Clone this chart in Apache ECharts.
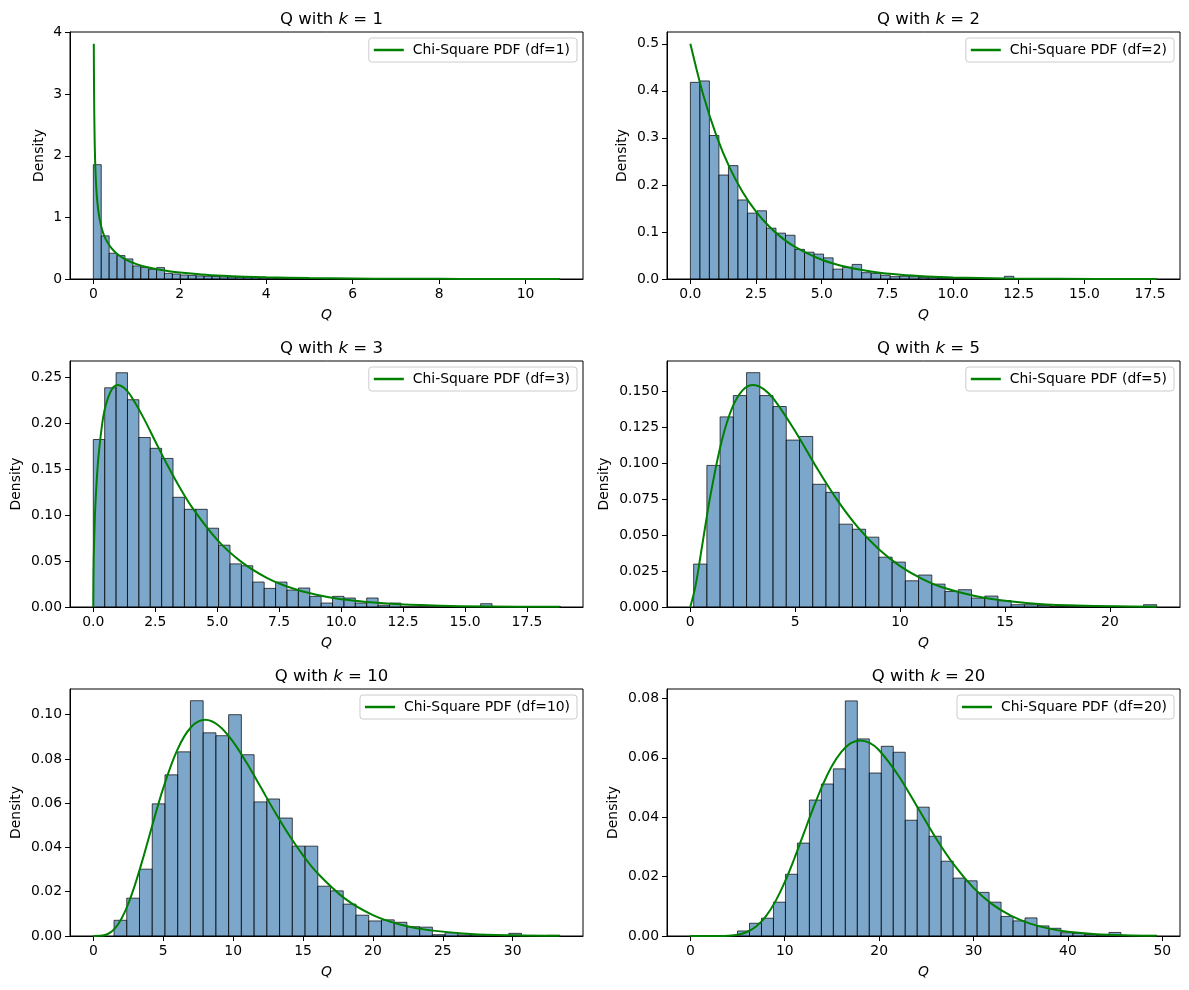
<!DOCTYPE html>
<html><head><meta charset="utf-8">
<script src="https://cdn.jsdelivr.net/npm/echarts@6/dist/echarts.min.js"></script>
<style>html,body{margin:0;padding:0;background:#fff}#c{width:1189px;height:990px}</style>
</head><body><div id="c"></div>
<script>
// ---------------- DATA ----------------
const dfList = [1, 2, 3, 5, 10, 20];

// histogram bins: first edge, bin width, density heights
const hist1Start = 0.0,  hist1Width = 0.1829;
const hist1 = [1.856,0.700,0.418,0.380,0.326,0.212,0.190,0.157,0.185,0.092,0.081,0.065,0.060,0.050,0.045,0.040,0.035,0.030,0.028,0.025,0.022,0.020,0.015,0.012,0.010,0.008,0.006,0.005,0.004,0.003,0.002,0.002,0,0.002,0,0,0,0,0,0,0,0,0,0,0,0,0,0,0,0,0,0,0,0,0,0,0,0,0.002];

const hist2Start = 0.0,  hist2Width = 0.3622;
const hist2 = [0.418,0.421,0.305,0.221,0.241,0.168,0.140,0.145,0.108,0.0975,0.093,0.063,0.057,0.053,0.045,0.021,0.025,0.031,0.0135,0.012,0.008,0.005,0.006,0.005,0.003,0.003,0.002,0.002,0.001,0.001,0.0005,0.0005,0,0.0057,0,0,0,0,0,0,0,0,0,0,0,0,0,0,0.0005];

const hist3Start = 0.0,  hist3Width = 0.4597;
const hist3 = [0.1826,0.239,0.2554,0.226,0.1848,0.173,0.162,0.1196,0.1065,0.1065,0.0859,0.0674,0.047,0.045,0.0272,0.0203,0.0272,0.0185,0.0207,0.0116,0.0043,0.0116,0.0098,0.0043,0.0098,0.002,0.0043,0,0,0,0,0,0,0,0.0036,0,0,0,0,0,0.0005];

const hist5Start = 0.16, hist5Width = 0.6306;
const hist5 = [0.0298,0.0983,0.132,0.1468,0.1627,0.1468,0.1392,0.1159,0.1184,0.0852,0.0796,0.0575,0.054,0.0485,0.0346,0.0312,0.0182,0.0222,0.0159,0.0108,0.012,0.0062,0.0076,0.0044,0.0016,0.0016,0.001,0.0005,0.0005,0,0,0,0,0,0.0016];

const hist10Start = 1.48, hist10Width = 0.911;
const hist10 = [0.0071,0.0171,0.0302,0.0597,0.0728,0.0832,0.1063,0.0918,0.0905,0.1000,0.0819,0.0606,0.0619,0.0533,0.0406,0.0406,0.0225,0.0204,0.0144,0.0094,0.0068,0.0073,0.0062,0.0042,0.004,0.0006,0.0015,0.0005,0.0005,0.0005,0,0.0012,0,0,0.0003];

const hist20Start = 5.0, hist20Width = 1.269;
const hist20 = [0.0017,0.0043,0.006,0.0114,0.0208,0.0313,0.0458,0.0512,0.0563,0.0792,0.0664,0.0549,0.0639,0.0619,0.039,0.0434,0.0336,0.0252,0.0195,0.0186,0.0147,0.0114,0.0066,0.0051,0.0061,0.0034,0.0026,0.0011,0.0009,0.0005,0.0003,0.0012,0,0,0.0002];

// Chi-square PDF curve samples (x, density)
const pdf1X = [0.0108,0.015,0.02,0.03,0.04,0.055,0.07,0.085,0.1,0.125,0.15,0.2,0.25,0.3,0.4,0.5,0.6,0.7,0.85,1,1.25,1.5,1.75,2,2.5,3,3.5,4,5,6,7,8,9,10.79];
const pdf1Y = [3.818,3.233,2.793,2.269,1.955,1.655,1.456,1.3114,1.200,1.060,0.9556,0.8072,0.7041,0.6269,0.5164,0.4394,0.3815,0.3360,0.2829,0.2420,0.1910,0.1539,0.1257,0.1038,0.0723,0.0514,0.03706,0.0270,0.01465,0.00811,0.00455,0.00258,0.00148,0.00055];

const pdf2X = [0,0.5,1,1.5,2,2.5,3,3.5,4,5,6,7,8,9,10,12,14,17.75];
const pdf2Y = [0.5,0.3894,0.3033,0.2362,0.1839,0.1433,0.1116,0.0869,0.0677,0.0410,0.0249,0.0151,0.00916,0.00555,0.00337,0.00124,0.000456,0.00007];

const pdf3X = [0,0.01,0.03,0.06,0.1,0.2,0.35,0.5,0.75,1,1.25,1.5,2,2.5,3,3.5,4,5,6,7,8,9,10,12,14,16,18.82];
const pdf3Y = [0,0.0397,0.06807,0.09483,0.1200,0.16143,0.19813,0.2197,0.23745,0.24197,0.23874,0.2308,0.20755,0.18072,0.15418,0.12969,0.10798,0.07322,0.04865,0.03187,0.02067,0.013295,0.0085,0.003426,0.001361,0.000535,0.00014];

const pdf5X = [0,0.25,0.5,0.75,1,1.5,2,2.5,3,3.5,4,5,6,7,8,9,10,11,12,14,16,18,22.23];
const pdf5Y = [0,0.01467,0.03662,0.05936,0.08066,0.1154,0.13837,0.1506,0.15418,0.15131,0.14398,0.12204,0.0973,0.07437,0.05511,0.03989,0.02833,0.01983,0.0137,0.006352,0.002855,0.001253,0.000207];

const pdf10X = [0,0.5,1,1.5,2,2.5,3,3.5,4,5,6,7,8,9,10,11,12,13,14,15,16,18,20,22,24,27,30,33.36];
const pdf10Y = [0,0.000063,0.00079,0.003114,0.007664,0.01457,0.02353,0.03395,0.04511,0.0668,0.08402,0.09441,0.09768,0.0949,0.08773,0.07791,0.06693,0.05591,0.04561,0.03646,0.02863,0.01687,0.009458,0.005094,0.002654,0.000949,0.000323,0.000092];

const pdf20X = [0,2,3,4,5,6,7,8,9,10,11,12,13,14,15,16,17,18,19,20,22,24,26,28,30,32,34,36,38,40,43,46,49.4];
const pdf20Y = [0,0.0000005,0.0000118,0.0000954,0.000431,0.001351,0.00328,0.00662,0.01158,0.01813,0.02594,0.03441,0.04288,0.05073,0.05727,0.06204,0.06496,0.06588,0.06502,0.06257,0.05425,0.04372,0.03304,0.02368,0.01621,0.01065,0.00676,0.00416,0.00249,0.001455,0.000622,0.000254,0.0000884];

// tick labels
const xTicks1 = [0,2,4,6,8,10];
const xTicks2 = [0,2.5,5,7.5,10,12.5,15,17.5];
const xTicks3 = [0,2.5,5,7.5,10,12.5,15,17.5];
const xTicks5 = [0,5,10,15,20];
const xTicks10 = [0,5,10,15,20,25,30];
const xTicks20 = [0,10,20,30,40,50];
const yTicks1 = [0,1,2,3,4];
const yTicks2 = [0,0.1,0.2,0.3,0.4,0.5];
const yTicks3 = [0,0.05,0.10,0.15,0.20,0.25];
const yTicks5 = [0,0.025,0.05,0.075,0.1,0.125,0.15];
const yTicks10 = [0,0.02,0.04,0.06,0.08,0.10];
const yTicks20 = [0,0.02,0.04,0.06,0.08];

// ---------------- PANELS ----------------
const FONT = 'DejaVu Sans';
const panels = [
  {df:1,  hs:hist1Start,  hw:hist1Width,  h:hist1,  px:pdf1X,  py:pdf1Y,  xt:xTicks1,  yt:yTicks1,  xd:0, yd:0, grid:{left:70,top:32,width:513,height:247},  xr:[-0.54,11.33], ymax:4.009, yGap:24},
  {df:2,  hs:hist2Start,  hw:hist2Width,  h:hist2,  px:pdf2X,  py:pdf2Y,  xt:xTicks2,  yt:yTicks2,  xd:1, yd:1, grid:{left:667,top:32,width:513,height:247}, xr:[-0.89,18.64], ymax:0.525, yGap:38},
  {df:3,  hs:hist3Start,  hw:hist3Width,  h:hist3,  px:pdf3X,  py:pdf3Y,  xt:xTicks3,  yt:yTicks3,  xd:1, yd:2, grid:{left:70,top:361,width:513,height:246}, xr:[-0.94,19.76], ymax:0.2682, yGap:47},
  {df:5,  hs:hist5Start,  hw:hist5Width,  h:hist5,  px:pdf5X,  py:pdf5Y,  xt:xTicks5,  yt:yTicks5,  xd:0, yd:3, grid:{left:667,top:361,width:513,height:246},xr:[-1.11,23.34], ymax:0.1708, yGap:56},
  {df:10, hs:hist10Start, hw:hist10Width, h:hist10, px:pdf10X, py:pdf10Y, xt:xTicks10, yt:yTicks10, xd:0, yd:2, grid:{left:70,top:689,width:513,height:247}, xr:[-1.67,35.03], ymax:0.1116, yGap:47},
  {df:20, hs:hist20Start, hw:hist20Width, h:hist20, px:pdf20X, py:pdf20Y, xt:xTicks20, yt:yTicks20, xd:0, yd:2, grid:{left:667,top:689,width:513,height:247},xr:[-2.47,51.87], ymax:0.0832, yGap:47}
];

const option = {
  animation:false,
  backgroundColor:'#ffffff',
  textStyle:{fontFamily:FONT},
  title:[], grid:[], xAxis:[], yAxis:[], legend:[], series:[]
};

panels.forEach((p,i)=>{
  const g = p.grid;
  option.grid.push(Object.assign({show:true, borderColor:'#000', borderWidth:1, backgroundColor:'transparent'}, g));
  option.title.push({
    text:'Q with {i|k} = ' + p.df,
    left: g.left + g.width/2, top: g.top - 26, textAlign:'center',
    textStyle:{fontFamily:FONT, fontSize:16.5, fontWeight:'normal', color:'#000',
      rich:{i:{fontFamily:FONT, fontStyle:'italic', fontSize:16.5, color:'#000'}}}
  });
  option.xAxis.push({
    type:'value', gridIndex:i, min:p.xr[0], max:p.xr[1],
    name:'Q', nameLocation:'middle', nameGap:29,
    nameTextStyle:{fontFamily:FONT, fontStyle:'italic', fontSize:13.9, color:'#000'},
    axisLine:{show:true, onZero:false, lineStyle:{color:'#000', width:1}},
    axisTick:{show:true, customValues:p.xt, length:5, lineStyle:{color:'#000'}},
    axisLabel:{customValues:p.xt, margin:8, fontFamily:FONT, fontSize:13.9, color:'#000',
      formatter:v=>Number(v).toFixed(p.xd)},
    splitLine:{show:false}
  });
  option.yAxis.push({
    type:'value', gridIndex:i, min:0, max:p.ymax,
    name:'Density', nameLocation:'middle', nameGap:p.yGap, nameRotate:90,
    nameTextStyle:{fontFamily:FONT, fontSize:13.9, color:'#000'},
    axisLine:{show:true, onZero:false, lineStyle:{color:'#000', width:1}},
    axisTick:{show:true, customValues:p.yt, length:5, lineStyle:{color:'#000'}},
    axisLabel:{customValues:p.yt, margin:8, fontFamily:FONT, fontSize:13.9, color:'#000',
      formatter:v=>Number(v).toFixed(p.yd)},
    splitLine:{show:false}
  });
  const name = 'Chi-Square PDF (df=' + p.df + ')';
  option.legend.push({
    data:[name], orient:'vertical',
    right: 1189 - (g.left + g.width) + 6, top: g.top + 6,
    icon:'rect', itemWidth:30, itemHeight:2.5, selectedMode:false,
    backgroundColor:'rgba(255,255,255,0.8)', borderColor:'#cccccc', borderWidth:1, borderRadius:3,
    padding:[5,7,5,5],
    textStyle:{fontFamily:FONT, fontSize:13.9, color:'#000', padding:[0,0,0,4]}
  });
  const barData = p.h.map((v,j)=>[p.hs + j*p.hw, p.hs + (j+1)*p.hw, v]);
  option.series.push({
    type:'custom', xAxisIndex:i, yAxisIndex:i, data:barData,
    encode:{x:[0,1], y:2}, silent:true,
    renderItem:(params, api)=>{
      const x0 = api.value(0), x1 = api.value(1), h = api.value(2);
      const a = api.coord([x0, h]), b = api.coord([x1, 0]);
      return {type:'rect', shape:{x:a[0], y:a[1], width:b[0]-a[0], height:b[1]-a[1]},
        style:{fill:'rgba(70,130,180,0.7)', stroke:'rgba(0,0,0,0.7)', lineWidth:1}};
    }
  });
  option.series.push({
    type:'line', name:name, xAxisIndex:i, yAxisIndex:i,
    data:p.px.map((x,j)=>[x, p.py[j]]),
    showSymbol:false, symbol:'none', smooth:0.35, silent:true,
    itemStyle:{color:'#008000'}, lineStyle:{color:'#008000', width:2}, z:5
  });
});

const chart = echarts.init(document.getElementById('c'), null, {renderer:'canvas'});
chart.setOption(option);
</script></body></html>
